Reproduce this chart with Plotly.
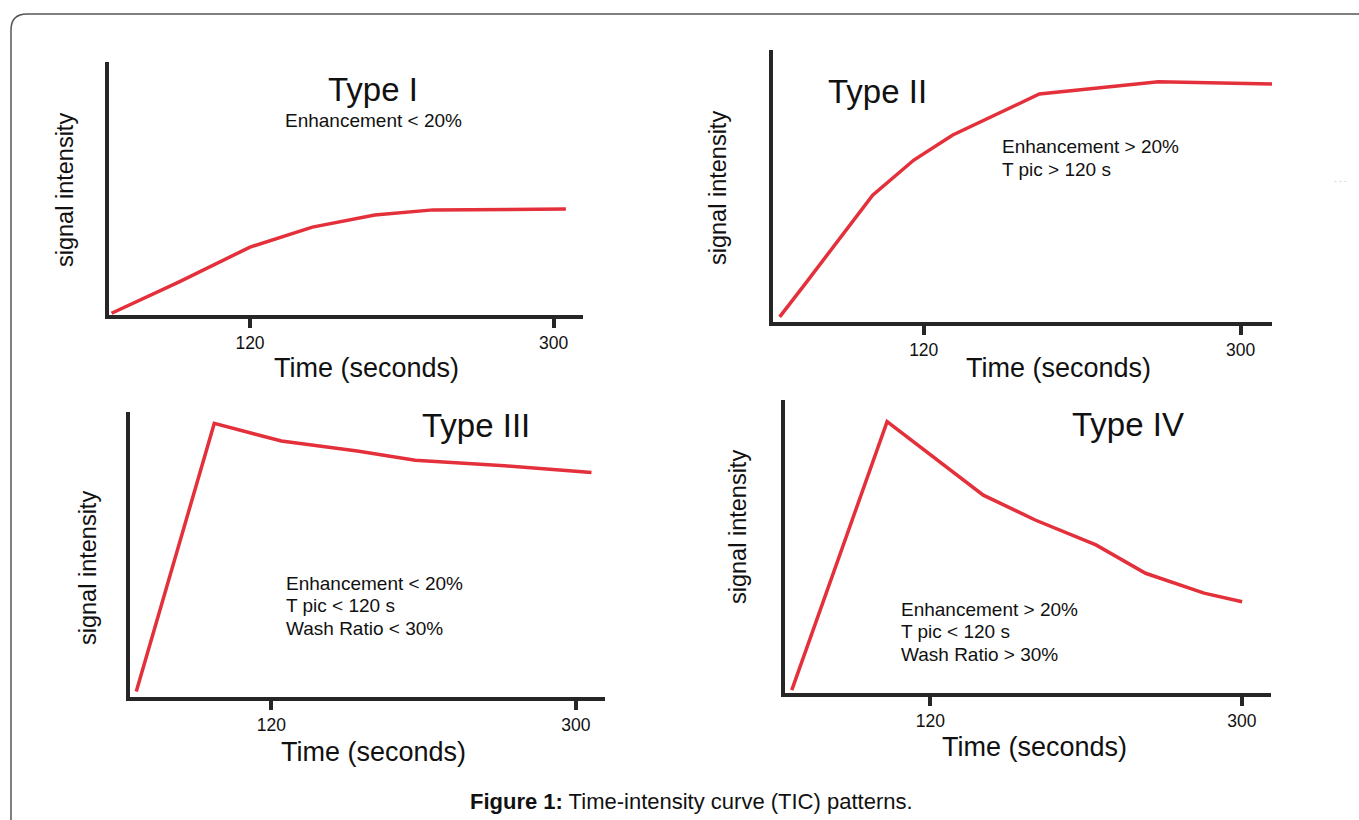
import plotly.graph_objects as go

W, H = 1359, 820

# ---------------- data (time in seconds, signal intensity in arbitrary units, 0-100) -------------
t1 = [37.9, 77.7, 120, 157, 194, 228.5, 307.3]
s1 = [0.7, 13, 26.8, 34.7, 39.5, 41.5, 41.8]

t2 = [38.2, 52.9, 91, 114.4, 136.5, 185.7, 253.3, 317.8]
s2 = [1.8, 14.1, 46.6, 59.5, 68.7, 83.8, 88.3, 87.5]

t3 = [40.1, 86.2, 125.9, 170.7, 205, 257.8, 309.2]
s3 = [1.8, 95.9, 89.7, 86.2, 83, 81, 78.7]

t4 = [39.9, 95, 150.6, 180.6, 215.7, 244.4, 278.2, 300.2]
s4 = [0.9, 92.6, 67.5, 59, 50.5, 40.8, 34, 31.1]

tick_vals = [120, 300]
tick_text = ["120", "300"]
types = ["Type I", "Type II", "Type III", "Type IV"]
criteria = [
    ["Enhancement < 20%"],
    ["Enhancement > 20%", "T pic > 120 s"],
    ["Enhancement < 20%", "T pic < 120 s", "Wash Ratio < 30%"],
    ["Enhancement > 20%", "T pic < 120 s", "Wash Ratio > 30%"],
]
x_title = "Time (seconds)"
y_title = "signal intensity"
caption_bold = "Figure 1:"
caption_rest = " Time-intensity curve (TIC) patterns."

# ---------------- layout geometry (pixels) ----------------
# (x_left, x_right, y_top, y_bottom, x_min, x_max)
panels = [
    (108.5, 582.6, 61.7, 315.0, 36.1, 317.2),
    (773.0, 1272.0, 50.0, 321.7, 34.4, 317.8),
    (129.5, 605.0, 411.7, 696.7, 36.1, 317.2),
    (785.2, 1271.2, 400.0, 692.7, 36.1, 317.0),
]

def px(x):
    return x / W

def py(y):
    return 1 - y / H

FONT = "Liberation Sans, Arial, Helvetica, sans-serif"
RED = "#e3303b"
AXC = "#262626"

fig = go.Figure()
series = [(t1, s1), (t2, s2), (t3, s3), (t4, s4)]
for i, (t, s) in enumerate(series):
    k = "" if i == 0 else str(i + 1)
    fig.add_trace(go.Scatter(x=t, y=s, mode="lines", xaxis="x" + k, yaxis="y" + k,
                             line=dict(color=RED, width=3.5), showlegend=False,
                             hoverinfo="skip"))

layout = dict(width=W, height=H, margin=dict(l=0, r=0, t=0, b=0),
              paper_bgcolor="white", plot_bgcolor="white", showlegend=False,
              font=dict(family=FONT, color="black"))

for i, (xl, xr, yt, yb, xmin, xmax) in enumerate(panels):
    k = "" if i == 0 else str(i + 1)
    layout["xaxis" + k] = dict(domain=[px(xl), px(xr)], range=[xmin, xmax],
                               anchor="y" + k, showgrid=False, zeroline=False,
                               showline=True, linecolor=AXC, linewidth=4,
                               ticks="outside", ticklen=9, tickwidth=3.5, tickcolor=AXC,
                               tickvals=tick_vals, ticktext=tick_text,
                               tickfont=dict(size=17.5, family=FONT, color="#111"),
                               fixedrange=True)
    layout["yaxis" + k] = dict(domain=[py(yb), py(yt)], range=[0, 100],
                               anchor="x" + k, showgrid=False, zeroline=False,
                               showline=True, linecolor=AXC, linewidth=4,
                               showticklabels=False, ticks="", fixedrange=True)

fig.update_layout(**layout)

# ---------------- text annotations ----------------
ann = []
xt_pos = [(366, 368), (1058, 368), (373, 752), (1034, 747)]
yt_pos = [(65, 190), (718, 188), (88, 568), (738, 527)]
type_pos = [(373, 90), (877, 92), (476, 425), (1128, 424)]
crit_pos = [(373, 120, "center"), (1000, 147, "left"), (283.5, 583, "left"), (898.6, 609, "left")]
for i in range(4):
    x, y = xt_pos[i]
    ann.append(dict(x=px(x), y=py(y), xref="paper", yref="paper", text=x_title,
                    showarrow=False, xanchor="center", yanchor="middle",
                    font=dict(size=27, family=FONT, color="#111")))
    x, y = yt_pos[i]
    ann.append(dict(x=px(x), y=py(y), xref="paper", yref="paper", text=y_title,
                    showarrow=False, xanchor="center", yanchor="middle", textangle=-90,
                    font=dict(size=23.5, family=FONT, color="#111")))
    x, y = type_pos[i]
    ann.append(dict(x=px(x), y=py(y), xref="paper", yref="paper", text=types[i],
                    showarrow=False, xanchor="center", yanchor="middle",
                    font=dict(size=33, family=FONT, color="#111")))
    x, y, a = crit_pos[i]
    for j, line in enumerate(criteria[i]):
        ann.append(dict(x=px(x), y=py(y + j * 22.5), xref="paper", yref="paper", text=line,
                        showarrow=False, xanchor=a, yanchor="middle",
                        font=dict(size=19, family=FONT, color="#111")))

ann.append(dict(x=px(691), y=py(801), xref="paper", yref="paper",
                text="<b>" + caption_bold + "</b>" + caption_rest,
                showarrow=False, xanchor="center", yanchor="middle",
                font=dict(size=22, family=FONT, color="#111")))
ann.append(dict(x=px(1340), y=py(181), xref="paper", yref="paper", text="- - -",
                showarrow=False, xanchor="center", yanchor="middle",
                font=dict(size=8, family=FONT, color="#c4c4c4")))
fig.update_layout(annotations=ann)

# ---------------- rounded frame ----------------
r = 16
x0, yt0 = 11, 14
path = (f"M {px(x0)},{py(H + 5)} L {px(x0)},{py(yt0 + r)} "
        f"Q {px(x0)},{py(yt0)} {px(x0 + r)},{py(yt0)} L {px(W + 5)},{py(yt0)}")
fig.add_shape(type="path", path=path, xref="paper", yref="paper",
              line=dict(color="#555555", width=1.5))

fig.write_html("out.html", config={"displayModeBar": False},
               post_script="document.body.style.margin='0px';document.body.style.overflow='hidden';")
